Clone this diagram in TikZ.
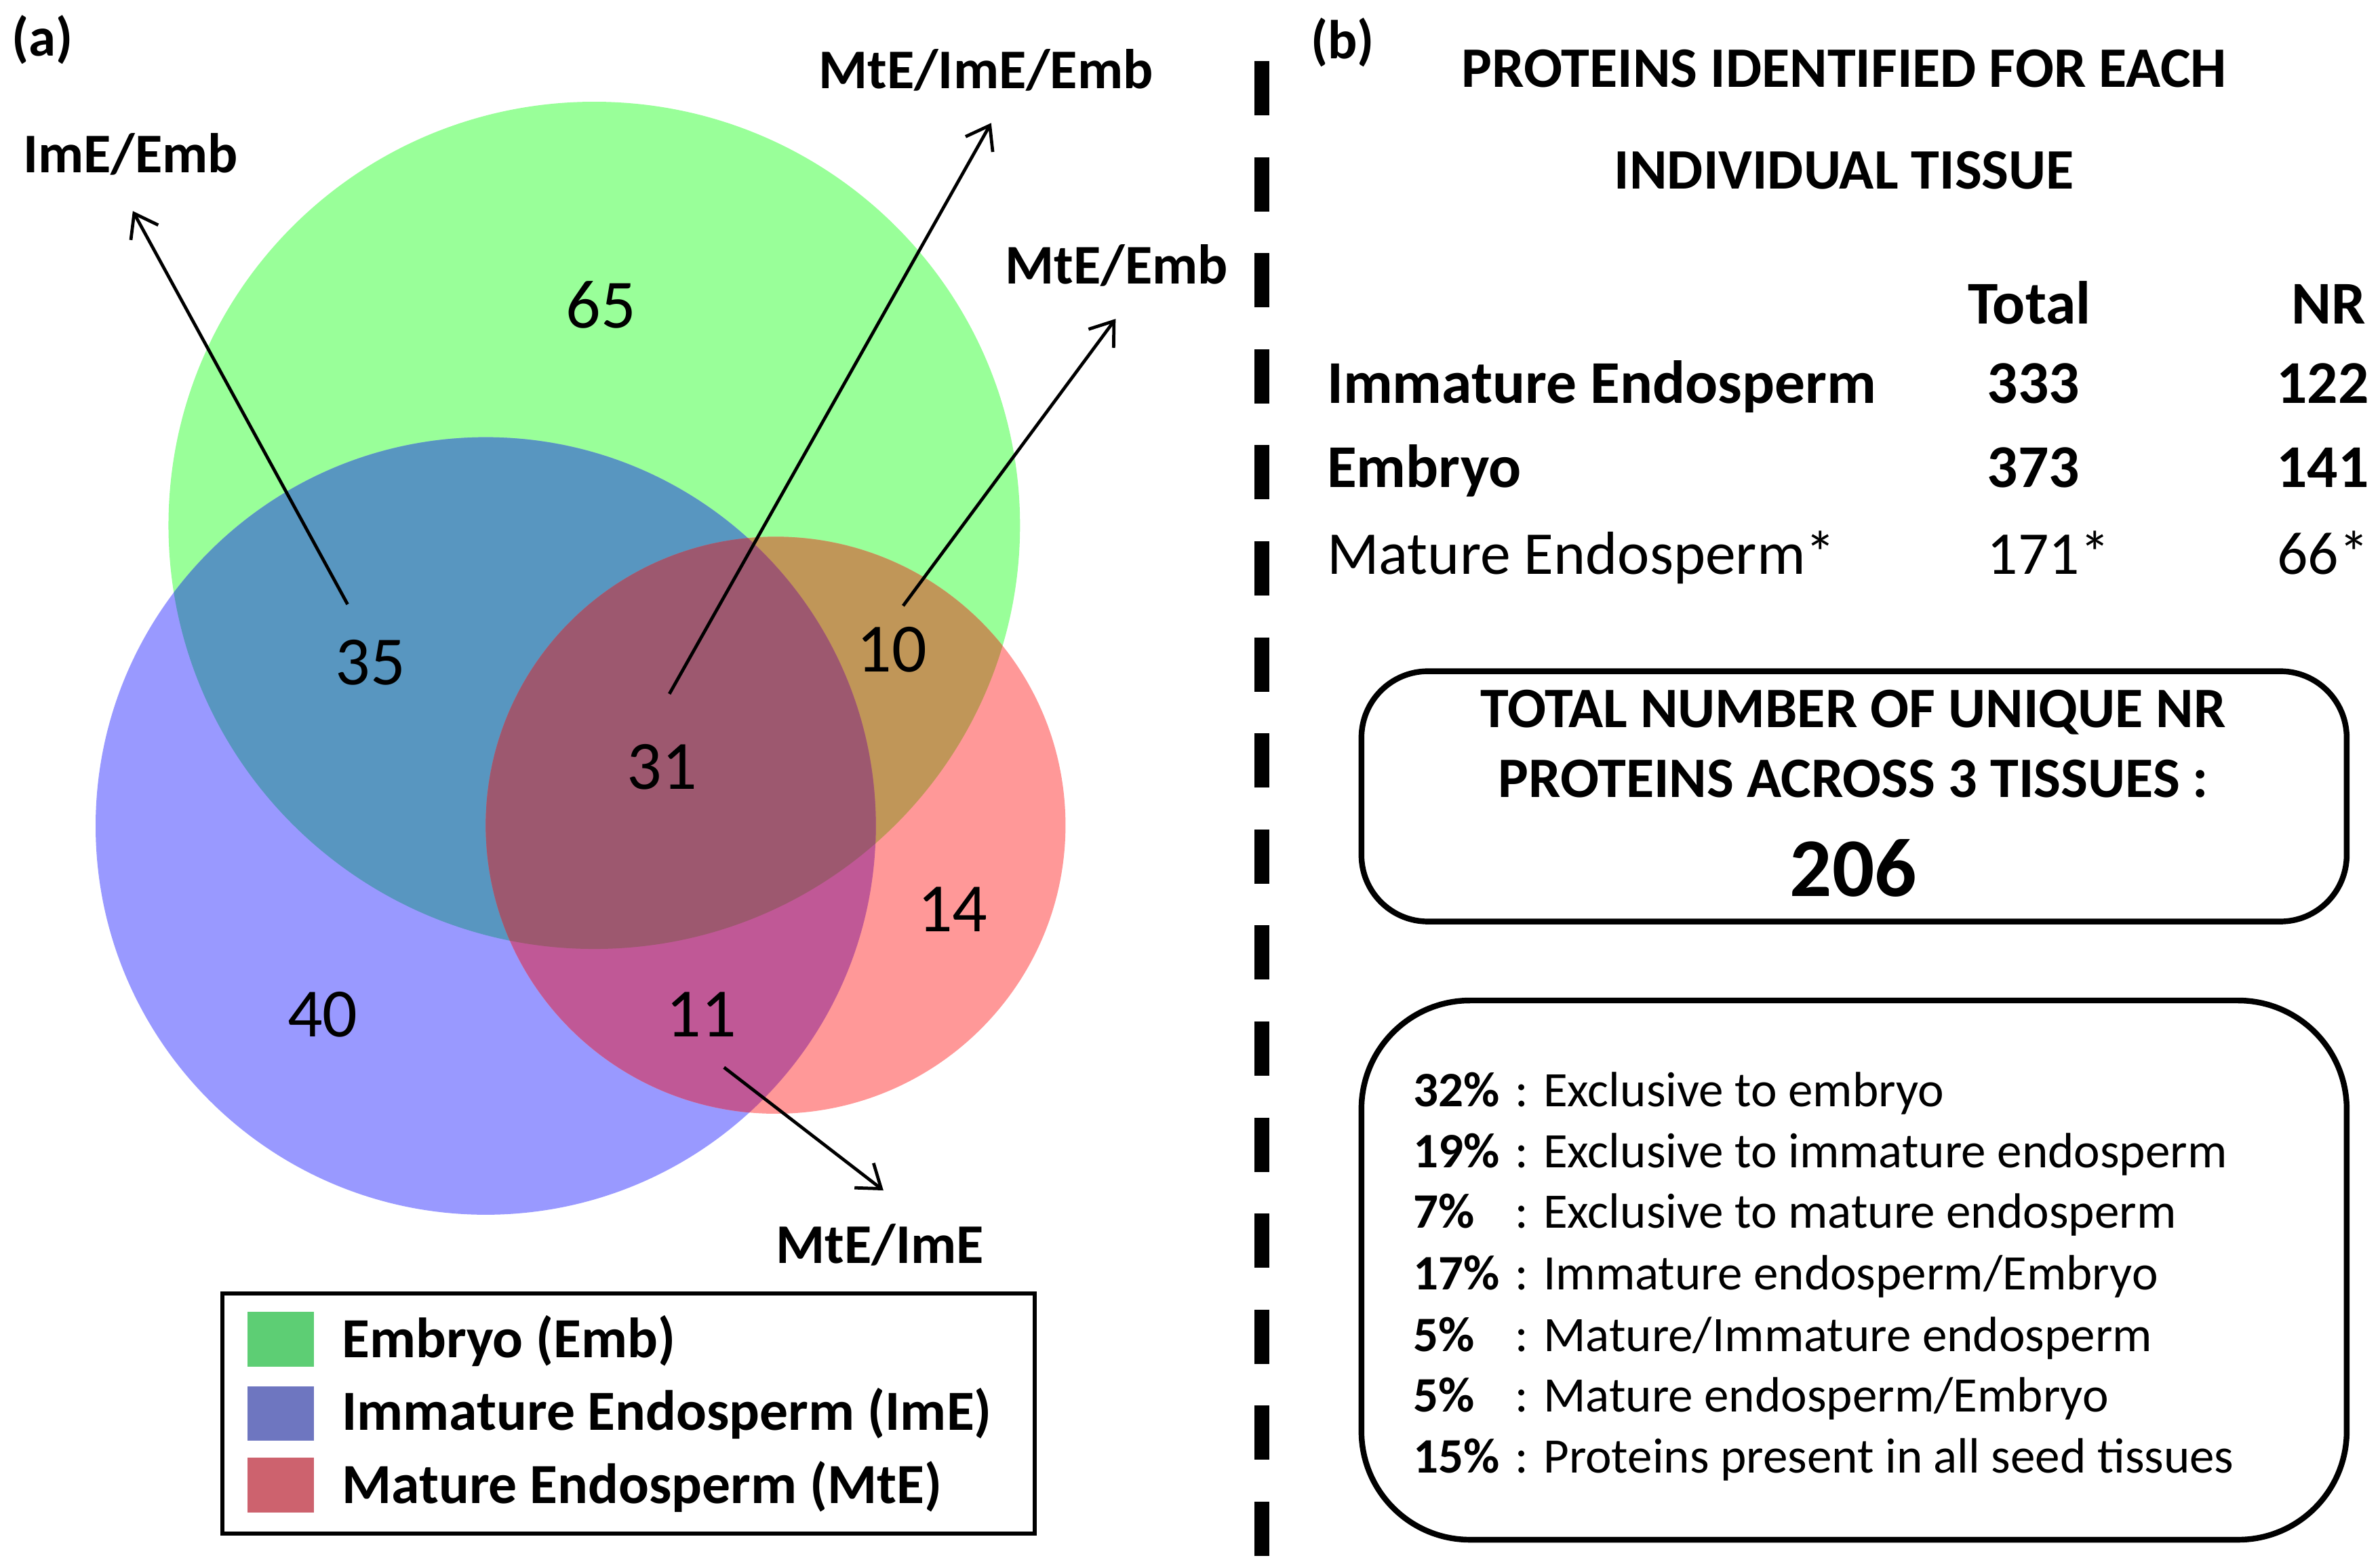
\documentclass[tikz,border=0pt]{standalone}
\usepackage{fontspec}
\setmainfont{Carlito}
\usetikzlibrary{arrows.meta}

% venn colours
\definecolor{embfill}{RGB}{153,255,153}
\definecolor{imefill}{RGB}{153,153,255}
\definecolor{mtefill}{RGB}{255,152,152}
\definecolor{embime}{RGB}{88,150,192}
\definecolor{embmte}{RGB}{192,150,88}
\definecolor{imemte}{RGB}{192,88,150}
\definecolor{allthree}{RGB}{157,88,111}
% legend keys
\definecolor{embkey}{RGB}{93,206,116}
\definecolor{imekey}{RGB}{110,118,192}
\definecolor{mtekey}{RGB}{205,98,110}

\newcommand{\embpath}{(391.5,346) ellipse [x radius=62.79mm, y radius=62.45mm]}
\newcommand{\imepath}{(320,544) ellipse [x radius=57.53mm, y radius=57.31mm]}
\newcommand{\mtepath}{(511,543.5) ellipse [x radius=42.75mm, y radius=42.53mm]}

\tikzset{
    every node/.style = {inner sep=0pt},
    vennnum/.style = {font=\fontsize{29}{34}\selectfont},
    vennlbl/.style = {font=\fontsize{23.5}{28}\selectfont\bfseries, anchor=base west},
    tag/.style = {font=\fontsize{23}{28}\selectfont\bfseries},
    pointer/.style = {line width=1.35pt, -{Straight Barb[length=3.2mm, width=4.6mm]}},
    keybox/.style = {minimum width=9.85mm, minimum height=8.06mm},
    keytxt/.style = {font=\fontsize{23.8}{28}\selectfont\bfseries, anchor=base west},
    head/.style = {font=\fontsize{24}{28}\selectfont\bfseries},
    tabtxt/.style = {font=\fontsize{25.5}{30}\selectfont},
    tabbold/.style = {font=\fontsize{25.5}{30}\selectfont\bfseries},
    pctrow/.style = {font=\fontsize{20.8}{24}\selectfont, anchor=base west},
}

\newcommand{\pct}[1]{\makebox[2.05em][l]{\textbf{#1}}}

\begin{document}
\begin{tikzpicture}[x=0.22385mm, y=-0.22385mm]
    \fill[white] (0,0) rectangle (1568,1025.7);
    \useasboundingbox (0,0) rectangle (1568,1025.7);

    % venn diagram
    \fill[embfill] \embpath;
    \fill[imefill] \imepath;
    \fill[mtefill] \mtepath;
    \begin{scope}
        \clip \embpath;
        \fill[embime] \imepath;
    \end{scope}
    \begin{scope}
        \clip \embpath;
        \fill[embmte] \mtepath;
    \end{scope}
    \begin{scope}
        \clip \imepath;
        \fill[imemte] \mtepath;
    \end{scope}
    \begin{scope}
        \clip \embpath;
        \clip \imepath;
        \fill[allthree] \mtepath;
    \end{scope}

    \node[vennnum] (n65) at (396,201) {65};
    \node[vennnum] (n35) at (244,436.5) {35};
    \node[vennnum] (n10) at (587.5,427.7) {10};
    \node[vennnum] (n31) at (436,505) {31};
    \node[vennnum] (n14) at (627.5,599) {14};
    \node[vennnum] (n40) at (212.5,668) {40};
    \node[vennnum] (n11) at (462,668) {11};

    \node[tag] (taga) at (28,26) {(a)};
    \node[vennlbl] (lImEEmb) at (15,113.5) {ImE/Emb};
    \node[vennlbl] (lAll) at (539,58.5) {MtE/ImE/Emb};
    \node[vennlbl] (lMtEEmb) at (662,187) {MtE/Emb};
    \node[vennlbl] (lMtEImE) at (511,832) {MtE/ImE};

    \coordinate (s35) at (229,398);
    \coordinate (t35) at (87.5,139);
    \coordinate (s31) at (441,457);
    \coordinate (t31) at (653,81);
    \coordinate (s10) at (595,399);
    \coordinate (t10) at (735,210);
    \coordinate (s11) at (477,703);
    \coordinate (t11) at (582,784);
    \draw[pointer] (s35) -- (t35);
    \draw[pointer] (s31) -- (t31);
    \draw[pointer] (s10) -- (t10);
    \draw[pointer] (s11) -- (t11);

    % legend
    \node[draw, line width=1.7pt, minimum width=119.8mm, minimum height=35.4mm] (legend) at (414,931) {};
    \node[keybox, fill=embkey] (kemb) at (185,882) {};
    \node[keybox, fill=imekey] (kime) at (185,931) {};
    \node[keybox, fill=mtekey] (kmte) at (185,978) {};
    \node[keytxt] (temb) at (225,894) {Embryo (Emb)};
    \node[keytxt] (time) at (225,941.7) {Immature Endosperm (ImE)};
    \node[keytxt] (tmte) at (225,990) {Mature Endosperm (MtE)};

    % separator
    \draw[line width=2.2mm, dash pattern=on 8mm off 6.16mm] (831.4,40.2) -- (831.4,1025.7);

    % panel b
    \node[tag] (tagb) at (884.5,28) {(b)};
    \node[head] (title1) at (1215,45) {PROTEINS IDENTIFIED FOR EACH};
    \node[head] (title2) at (1215,112) {INDIVIDUAL TISSUE};

    \node[tabbold, anchor=base] (hTotal) at (1337,213.5) {Total};
    \node[tabbold, anchor=base] (hNR) at (1534,213.5) {NR};
    \node[tabbold, anchor=base west] (rIme) at (874,265.4) {Immature Endosperm};
    \node[tabbold, anchor=base west] (rEmb) at (874,321) {Embryo};
    \node[tabtxt, anchor=base west] (rMte) at (874,378) {Mature Endosperm*};
    \node[tabbold, anchor=base west] (tIme) at (1309,265.4) {333};
    \node[tabbold, anchor=base west] (tEmb) at (1309,321) {373};
    \node[tabtxt, anchor=base west] (tMte) at (1309,378) {171*};
    \node[tabbold, anchor=base east] (nIme) at (1561,265.4) {122};
    \node[tabbold, anchor=base east] (nEmb) at (1561,321) {141};
    \node[tabtxt, anchor=base east] (nMte) at (1561,378) {66*};

    \node[draw, line width=2.4pt, rounded corners=9.8mm, minimum width=145.3mm, minimum height=36.9mm] (totalbox) at (1221.5,524.5) {};
    \node[head] (tot1) at (1221,469) {TOTAL NUMBER OF UNIQUE NR};
    \node[head] (tot2) at (1221,513) {PROTEINS ACROSS 3 TISSUES :};
    \node[font=\fontsize{35}{40}\selectfont\bfseries] (tot3) at (1221,572) {206};

    \node[draw, line width=2.4pt, rounded corners=16mm, minimum width=145.3mm, minimum height=79.5mm] (pctbox) at (1221.5,836.5) {};
    \node[pctrow] (p1) at (931,729) {\pct{32\%}: Exclusive to embryo};
    \node[pctrow] (p2) at (931,769) {\pct{19\%}: Exclusive to immature endosperm};
    \node[pctrow] (p3) at (931,809) {\pct{7\%}: Exclusive to mature endosperm};
    \node[pctrow] (p4) at (931,849.5) {\pct{17\%}: Immature endosperm/Embryo};
    \node[pctrow] (p5) at (931,890) {\pct{5\%}: Mature/Immature endosperm};
    \node[pctrow] (p6) at (931,930) {\pct{5\%}: Mature endosperm/Embryo};
    \node[pctrow] (p7) at (931,970) {\pct{15\%}: Proteins present in all seed tissues};
\end{tikzpicture}
\end{document}
